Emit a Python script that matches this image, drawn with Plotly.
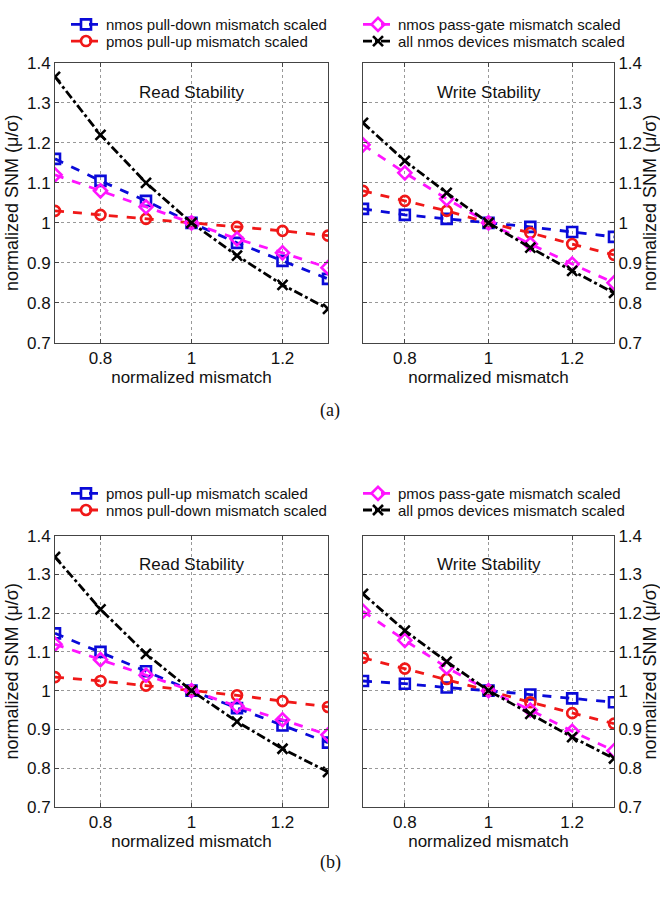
import plotly.graph_objects as go

x_vals = [0.7, 0.8, 0.9, 1.0, 1.1, 1.2, 1.3]

# (a) Read stability
a_read_nmos_pd = [1.16, 1.105, 1.055, 1.0, 0.95, 0.905, 0.86]
a_read_pmos_pu = [1.03, 1.02, 1.01, 1.0, 0.99, 0.98, 0.968]
a_read_nmos_pg = [1.12, 1.08, 1.04, 1.0, 0.96, 0.925, 0.888]
a_read_all = [1.365, 1.22, 1.10, 1.0, 0.918, 0.845, 0.785]
# (a) Write stability
a_write_nmos_pd = [1.035, 1.02, 1.01, 1.0, 0.99, 0.977, 0.965]
a_write_pmos_pu = [1.08, 1.055, 1.03, 1.0, 0.975, 0.947, 0.92]
a_write_nmos_pg = [1.195, 1.125, 1.06, 1.0, 0.947, 0.897, 0.85]
a_write_all = [1.25, 1.155, 1.075, 1.0, 0.938, 0.88, 0.825]
# (b) Read stability
b_read_pmos_pu = [1.148, 1.10, 1.05, 1.0, 0.955, 0.91, 0.866]
b_read_nmos_pd = [1.035, 1.025, 1.013, 1.0, 0.988, 0.973, 0.958]
b_read_pmos_pg = [1.12, 1.08, 1.04, 1.0, 0.96, 0.925, 0.886]
b_read_all = [1.345, 1.21, 1.095, 1.0, 0.92, 0.85, 0.79]
# (b) Write stability
b_write_pmos_pu = [1.025, 1.018, 1.008, 1.0, 0.99, 0.98, 0.97]
b_write_nmos_pd = [1.085, 1.057, 1.03, 1.0, 0.97, 0.942, 0.915]
b_write_pmos_pg = [1.205, 1.13, 1.06, 1.0, 0.95, 0.895, 0.845]
b_write_all = [1.25, 1.155, 1.075, 1.0, 0.94, 0.88, 0.825]

y_ticks = [0.7, 0.8, 0.9, 1.0, 1.1, 1.2, 1.3, 1.4]
y_tick_text = ["0.7", "0.8", "0.9", "1", "1.1", "1.2", "1.3", "1.4"]
x_ticks = [0.8, 1.0, 1.2]
x_tick_text = ["0.8", "1", "1.2"]

leg_a_left = ["nmos pull-down mismatch scaled", "pmos pull-up mismatch scaled"]
leg_a_right = ["nmos pass-gate mismatch scaled", "all nmos devices mismatch scaled"]
leg_b_left = ["pmos pull-up mismatch scaled", "nmos pull-down mismatch scaled"]
leg_b_right = ["pmos pass-gate mismatch scaled", "all pmos devices mismatch scaled"]

BLUE, RED, MAG, BLK = "#0a0ad8", "#f01818", "#ff14ff", "#000000"
FONT = "Liberation Sans, Arial, sans-serif"

fig = go.Figure()

def add(y, xa, ya, color, dash, symbol, name, legend, show):
    fig.add_trace(go.Scatter(
        x=x_vals, y=y, xaxis=xa, yaxis=ya, mode="lines+markers", name=name,
        line=dict(color=color, width=2.8, dash=dash),
        marker=dict(symbol=symbol, size=10, color=color, line=dict(color=color, width=2.6)),
        legend=legend, showlegend=show))

# panel (a) read: x/y ; (a) write: x2/y2 ; (b) read: x3/y3 ; (b) write: x4/y4
add(a_read_nmos_pd, "x", "y", BLUE, "dash", "square-open", leg_a_left[0], "legend", True)
add(a_read_pmos_pu, "x", "y", RED, "dash", "circle-open", leg_a_left[1], "legend2", True)
add(a_read_nmos_pg, "x", "y", MAG, "dash", "diamond-open", leg_a_right[0], "legend3", True)
add(a_read_all, "x", "y", BLK, "dashdot", "x-thin-open", leg_a_right[1], "legend4", True)

add(a_write_nmos_pd, "x2", "y2", BLUE, "dash", "square-open", leg_a_left[0], "legend", False)
add(a_write_pmos_pu, "x2", "y2", RED, "dash", "circle-open", leg_a_left[1], "legend2", False)
add(a_write_nmos_pg, "x2", "y2", MAG, "dash", "diamond-open", leg_a_right[0], "legend3", False)
add(a_write_all, "x2", "y2", BLK, "dashdot", "x-thin-open", leg_a_right[1], "legend4", False)

add(b_read_pmos_pu, "x3", "y3", BLUE, "dash", "square-open", leg_b_left[0], "legend5", True)
add(b_read_nmos_pd, "x3", "y3", RED, "dash", "circle-open", leg_b_left[1], "legend6", True)
add(b_read_pmos_pg, "x3", "y3", MAG, "dash", "diamond-open", leg_b_right[0], "legend7", True)
add(b_read_all, "x3", "y3", BLK, "dashdot", "x-thin-open", leg_b_right[1], "legend8", True)

add(b_write_pmos_pu, "x4", "y4", BLUE, "dash", "square-open", leg_b_left[0], "legend5", False)
add(b_write_nmos_pd, "x4", "y4", RED, "dash", "circle-open", leg_b_left[1], "legend6", False)
add(b_write_pmos_pg, "x4", "y4", MAG, "dash", "diamond-open", leg_b_right[0], "legend7", False)
add(b_write_all, "x4", "y4", BLK, "dashdot", "x-thin-open", leg_b_right[1], "legend8", False)

W, H = 660, 905
def px_x(a, b):
    return [a / W, b / W]
def px_y(top, bottom):
    return [1 - bottom / H, 1 - top / H]

xdoms = [px_x(55, 328), px_x(363, 614), px_x(55, 328), px_x(363, 614)]
ydoms = [px_y(55, 341), px_y(55, 341), px_y(538, 815), px_y(538, 815)]

axis_common = dict(showline=True, linecolor="#444", linewidth=1, mirror="allticks",
                   ticks="inside", ticklen=4, tickcolor="#444",
                   showgrid=True, gridcolor="#999", griddash="dot", gridwidth=1,
                   zeroline=False, tickfont=dict(family=FONT, size=17, color="#111"))
title_font = dict(family=FONT, size=17, color="#111")
ytitle_font = dict(family=FONT, size=18, color="#111")
layout = {}
for i in range(4):
    sx = "" if i == 0 else str(i + 1)
    layout["xaxis" + sx] = dict(axis_common, domain=xdoms[i], range=[0.7, 1.3],
                                tickvals=x_ticks, ticktext=x_tick_text,
                                anchor="y" + sx,
                                title=dict(text="normalized mismatch", font=title_font, standoff=0))
    right = i in (1, 3)
    layout["yaxis" + sx] = dict(axis_common, domain=ydoms[i], range=[0.7, 1.4],
                                tickvals=y_ticks, ticktext=y_tick_text,
                                anchor="x" + sx, side="right" if right else "left",
                                title=dict(text="normalized SNM (\u03bc/\u03c3)", font=ytitle_font, standoff=3))

leg_font = dict(family=FONT, size=15, color="#111")
leg_common = dict(font=leg_font, bgcolor="rgba(0,0,0,0)", borderwidth=0,
                  itemwidth=30, xanchor="left", yanchor="middle")
LX, RX = 66, 358
rows_a = [16, 33]
rows_b = [495, 512]
fig.update_layout(
    width=W, height=H, margin=dict(l=0, r=0, t=0, b=0),
    paper_bgcolor="white", plot_bgcolor="white",
    legend=dict(leg_common, x=LX / W, y=1 - rows_a[0] / H),
    legend2=dict(leg_common, x=LX / W, y=1 - rows_a[1] / H),
    legend3=dict(leg_common, x=RX / W, y=1 - rows_a[0] / H),
    legend4=dict(leg_common, x=RX / W, y=1 - rows_a[1] / H),
    legend5=dict(leg_common, x=LX / W, y=1 - rows_b[0] / H),
    legend6=dict(leg_common, x=LX / W, y=1 - rows_b[1] / H),
    legend7=dict(leg_common, x=RX / W, y=1 - rows_b[0] / H),
    legend8=dict(leg_common, x=RX / W, y=1 - rows_b[1] / H),
    **layout,
)

ann_font = dict(family=FONT, size=17, color="#111")
for xa, ya, txt in [("x", "y", "Read Stability"), ("x2", "y2", "Write Stability"),
                    ("x3", "y3", "Read Stability"), ("x4", "y4", "Write Stability")]:
    fig.add_annotation(x=1.0, y=1.325, xref=xa, yref=ya, text=txt, showarrow=False, font=ann_font)

cap_font = dict(family="Liberation Serif, Times New Roman, serif", size=18, color="#111")
fig.add_annotation(x=330 / W, y=1 - 410 / H, xref="paper", yref="paper", text="(a)",
                   showarrow=False, font=cap_font)
fig.add_annotation(x=330 / W, y=1 - 885 / H, xref="paper", yref="paper", text="(b)",
                   showarrow=False, font=cap_font)

fig.write_html("out.html")
